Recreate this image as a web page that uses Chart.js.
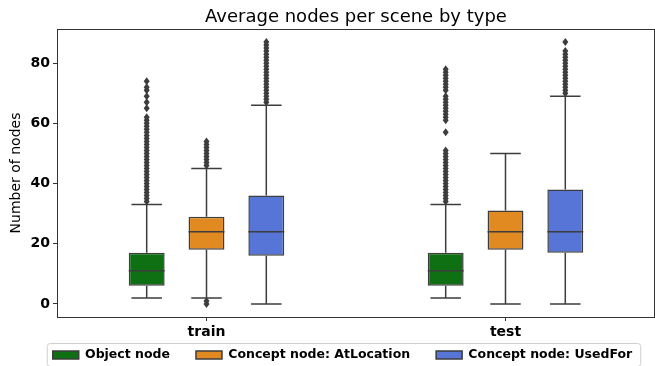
<!DOCTYPE html>
<html>
<head>
<meta charset="utf-8">
<script src="https://cdn.jsdelivr.net/npm/chart.js@4"></script>
<style>
  body { margin: 0; background: #fff; }
  #wrap { width: 655px; height: 366px; }
</style>
</head>
<body>
<div id="wrap"><canvas id="box-chart" width="655" height="366"></canvas></div>
<script>
// data
const categories = ['train', 'test'];
const seriesNames = ['Object node', 'Concept node: AtLocation', 'Concept node: UsedFor'];
const seriesColors = ['#0e7012', '#e08a21', '#5675d6'];
const yTicks = [0, 20, 40, 60, 80];

// box stats per category (train, test)
const objLow = [2, 2], objQ1 = [6, 6], objMed = [11, 11], objQ3 = [17, 17], objHigh = [33, 33];
const locLow = [2, 0], locQ1 = [18, 18], locMed = [24, 24], locQ3 = [29, 31], locHigh = [45, 50];
const useLow = [0, 0], useQ1 = [16, 17], useMed = [24, 24], useQ3 = [36, 38], useHigh = [66, 69];

// fliers
const objOutTrain = [34, 35, 36, 37, 38, 39, 40, 41, 42, 43, 44, 45, 46, 47, 48, 49, 50, 51, 52, 53, 54, 55, 56, 57, 58, 59, 60, 61, 62, 65, 67, 69, 71, 72, 74];
const objOutTest = [34, 35, 36, 37, 38, 39, 40, 41, 42, 43, 44, 45, 46, 47, 48, 49, 50, 51, 57, 61, 62, 63, 64, 65, 66, 67, 68, 69, 71, 72, 73, 74, 75, 76, 77, 78];
const locOutTrain = [0, 1, 46, 47, 48, 49, 50, 51, 52, 53, 54];
const locOutTest = [];
const useOutTrain = [67, 68, 69, 70, 71, 72, 73, 74, 75, 76, 77, 78, 79, 80, 81, 82, 83, 84, 85, 86, 87];
const useOutTest = [70, 71, 72, 73, 74, 75, 76, 77, 78, 79, 80, 81, 82, 83, 84, 87];

const stats = [
  { low: objLow, q1: objQ1, med: objMed, q3: objQ3, high: objHigh, out: [objOutTrain, objOutTest] },
  { low: locLow, q1: locQ1, med: locMed, q3: locQ3, high: locHigh, out: [locOutTrain, locOutTest] },
  { low: useLow, q1: useQ1, med: useMed, q3: useQ3, high: useHigh, out: [useOutTrain, useOutTest] }
];

const lineCol = '#3d3d3d';
const font = 'DejaVu Sans';
const legendPad = 26;
const legendFont = 12.5;

// whiskers, medians, fliers and the axes frame
const boxExtras = {
  id: 'boxExtras',
  beforeDatasetsDraw(chart) {
    const ctx = chart.ctx;
    const y = chart.scales.y;
    ctx.save();
    ctx.strokeStyle = lineCol;
    ctx.lineWidth = 1.5;
    stats.forEach((s, d) => {
      chart.getDatasetMeta(d).data.forEach((bar, i) => {
        const capW = bar.width * 0.85;
        ctx.beginPath();
        ctx.moveTo(bar.x, y.getPixelForValue(s.q3[i]));
        ctx.lineTo(bar.x, y.getPixelForValue(s.high[i]));
        ctx.moveTo(bar.x, y.getPixelForValue(s.q1[i]));
        ctx.lineTo(bar.x, y.getPixelForValue(s.low[i]));
        ctx.moveTo(bar.x - capW / 2, y.getPixelForValue(s.high[i]));
        ctx.lineTo(bar.x + capW / 2, y.getPixelForValue(s.high[i]));
        ctx.moveTo(bar.x - capW / 2, y.getPixelForValue(s.low[i]));
        ctx.lineTo(bar.x + capW / 2, y.getPixelForValue(s.low[i]));
        ctx.stroke();
      });
    });
    ctx.restore();
  },
  afterDatasetsDraw(chart) {
    const ctx = chart.ctx;
    const y = chart.scales.y;
    ctx.save();
    ctx.strokeStyle = lineCol;
    ctx.fillStyle = lineCol;
    ctx.lineWidth = 1.5;
    stats.forEach((s, d) => {
      chart.getDatasetMeta(d).data.forEach((bar, i) => {
        const my = y.getPixelForValue(s.med[i]);
        ctx.beginPath();
        ctx.moveTo(bar.x - bar.width / 2, my);
        ctx.lineTo(bar.x + bar.width / 2, my);
        ctx.stroke();
        s.out[i].forEach(v => {
          const py = y.getPixelForValue(v);
          ctx.beginPath();
          ctx.moveTo(bar.x, py - 4);
          ctx.lineTo(bar.x + 3, py);
          ctx.lineTo(bar.x, py + 4);
          ctx.lineTo(bar.x - 3, py);
          ctx.closePath();
          ctx.fill();
        });
      });
    });
    const a = chart.chartArea;
    ctx.strokeStyle = '#333';
    ctx.lineWidth = 1;
    ctx.strokeRect(a.left + 0.5, a.top + 0.5, a.right - a.left - 1, a.bottom - a.top);
    ctx.restore();
  },
  afterLayout(chart) {
    // move legend to where it sits in the picture, keep its clip box around the items
    const lg = chart.legend;
    const dy = 355 - (lg.top + legendPad + legendFont / 2);
    lg.left += 15; lg.right += 15;
    lg.top += dy;
    lg.bottom = 366;
    lg.height = lg.bottom - lg.top;
  },
  afterDraw(chart) {
    const boxes = chart.legend.legendHitBoxes;
    if (!boxes || !boxes.length) return;
    const ctx = chart.ctx;
    const l = boxes[0].left - 6;
    const r = boxes[boxes.length - 1].left + boxes[boxes.length - 1].width + 8;
    const cy = boxes[0].top + boxes[0].height / 2;
    ctx.save();
    ctx.strokeStyle = '#cfcfcf';
    ctx.lineWidth = 1;
    ctx.beginPath();
    ctx.roundRect(l + 0.5, cy - 11.5, r - l, 23, 3);
    ctx.stroke();
    ctx.restore();
  }
};

const chart = new Chart(document.getElementById('box-chart'), {
  type: 'bar',
  data: {
    labels: categories,
    datasets: stats.map((s, d) => ({
      label: seriesNames[d],
      data: categories.map((c, i) => [s.q1[i], s.q3[i]]),
      backgroundColor: seriesColors[d],
      borderColor: lineCol,
      borderWidth: 1.5,
      borderSkipped: false,
      categoryPercentage: 0.6,
      barPercentage: 0.6
    }))
  },
  options: {
    responsive: false,
    animation: false,
    layout: { padding: 0 },
    plugins: {
      tooltip: { enabled: false },
      title: {
        display: true,
        fullSize: false,
        text: 'Average nodes per scene by type',
        color: '#000',
        font: { family: font, size: 18, weight: 'normal' },
        padding: { top: 7, bottom: 0.4 }
      },
      legend: {
        position: 'bottom',
        maxHeight: 25,
        labels: {
          color: '#000',
          font: { family: font, size: legendFont, weight: 'bold' },
          boxWidth: 26,
          boxHeight: 8,
          padding: legendPad
        }
      }
    },
    scales: {
      x: {
        grid: { display: true, drawOnChartArea: false, offset: false, tickLength: 4, color: '#333' },
        border: { color: '#333' },
        ticks: { color: '#000', padding: 3, font: { family: font, size: 14, weight: 'bold' } },
        afterFit(scale) { scale.height = 24; }
      },
      y: {
        min: -4.35,
        max: 91.35,
        afterBuildTicks(scale) { scale.ticks = yTicks.map(v => ({ value: v })); },
        afterFit(scale) { scale.width = 57; },
        grid: { display: true, drawOnChartArea: false, tickLength: 4, color: '#333' },
        border: { color: '#333' },
        ticks: { color: '#000', padding: 3, font: { family: font, size: 14, weight: 'bold' } },
        title: {
          display: true,
          text: 'Number of nodes',
          color: '#000',
          font: { family: font, size: 14, weight: 'normal' },
          padding: { top: 8, bottom: 0 }
        }
      }
    }
  },
  plugins: [boxExtras]
});
</script>
</body>
</html>
